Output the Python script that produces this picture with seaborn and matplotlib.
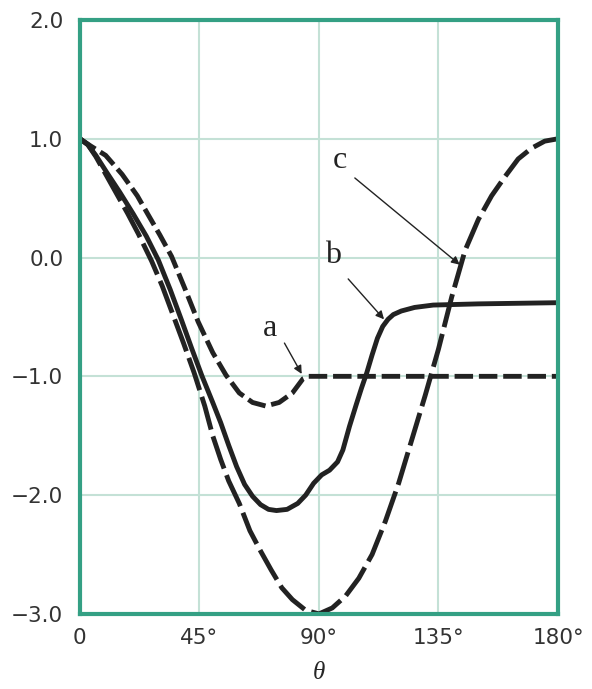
import matplotlib
matplotlib.use("Agg")
import matplotlib.pyplot as plt
import seaborn as sns
import pandas as pd

# ---- data ----
theta_c = [0, 3, 6, 10, 14, 18, 22, 27, 31, 35, 39, 43, 47, 50, 53, 56, 60, 64, 68, 72, 76, 80,
           85, 90, 95, 100, 105, 110, 115, 120, 125, 130, 135, 140, 145, 150, 155, 160, 165, 170,
           175, 180]
val_c = [1.00, 0.95, 0.85, 0.69, 0.53, 0.37, 0.20, -0.03, -0.24, -0.48, -0.72, -0.97, -1.25,
         -1.50, -1.70, -1.88, -2.07, -2.30, -2.47, -2.63, -2.78, -2.88, -2.97, -3.00,
         -2.95, -2.85, -2.70, -2.50, -2.22, -1.90, -1.53, -1.16, -0.77, -0.33, 0.06, 0.32,
         0.52, 0.68, 0.83, 0.92, 0.98, 1.00]

theta_b = [0, 3, 6, 10, 15, 20, 25, 29.5, 34, 38.3, 42, 46, 50, 53, 56, 59, 62, 65, 68, 71, 74,
           78, 82, 85, 88, 91, 94, 97, 99, 101.5, 104, 106, 108, 110, 112, 114, 116, 118, 121,
           126, 133, 150, 180]
val_b = [1.00, 0.95, 0.86, 0.72, 0.55, 0.37, 0.18, -0.02, -0.27, -0.53, -0.76, -1.00, -1.22,
         -1.39, -1.58, -1.76, -1.91, -2.01, -2.08, -2.12, -2.13, -2.12, -2.07, -2.00, -1.90,
         -1.83, -1.79, -1.72, -1.62, -1.42, -1.24, -1.10, -0.97, -0.82, -0.68, -0.58, -0.52,
         -0.48, -0.45, -0.42, -0.40, -0.39, -0.38]

theta_a = [0, 4, 9.7, 15.9, 21.6, 25.7, 30.1, 34.5, 39.5, 44.5, 50, 55, 60, 65, 70, 75, 80, 84,
           86, 180]
val_a = [1.00, 0.94, 0.86, 0.70, 0.52, 0.36, 0.19, 0.01, -0.26, -0.54, -0.80, -0.99, -1.14,
         -1.22, -1.25, -1.22, -1.14, -1.02, -1.00, -1.00]

x_ticks = [0, 45, 90, 135, 180]
x_ticklabels = ["0", "45°", "90°", "135°", "180°"]
y_ticks = [-3.0, -2.0, -1.0, 0.0, 1.0, 2.0]
y_ticklabels = ["\u22123.0", "\u22122.0", "\u22121.0", "0.0", "1.0", "2.0"]

# ---- style ----
sns.set_style("white")
plt.rcParams["font.family"] = ["DejaVu Sans"]

spine_col = "#34a084"
grid_col = "#c4e1d6"
ink = "#222222"

fig = plt.figure(figsize=(5.92, 6.89), dpi=100)
ax = fig.add_axes([0.135, 0.109, 0.8076, 0.862])

df_c = pd.DataFrame({"theta": theta_c, "val": val_c})
df_b = pd.DataFrame({"theta": theta_b, "val": val_b})
df_a = pd.DataFrame({"theta": theta_a, "val": val_a})

lw = 3.5
sns.lineplot(data=df_c, x="theta", y="val", ax=ax, color=ink, lw=lw, sort=False)
ax.lines[-1].set_dashes([7.0, 1.45])
sns.lineplot(data=df_b, x="theta", y="val", ax=ax, color=ink, lw=lw, sort=False)
sns.lineplot(data=df_a, x="theta", y="val", ax=ax, color=ink, lw=lw, sort=False)
ax.lines[-1].set_dashes([3.8, 1.2])
for ln in ax.lines:
    ln.set_solid_capstyle("butt")
    ln.set_dash_capstyle("butt")
    ln.set_solid_joinstyle("round")

ax.set_xlim(0, 180)
ax.set_ylim(-3, 2)
ax.set_xticks(x_ticks)
ax.set_xticklabels(x_ticklabels)
ax.set_yticks(y_ticks)
ax.set_yticklabels(y_ticklabels)
ax.tick_params(axis="both", length=0, labelsize=15.5, colors="#333333")
ax.tick_params(axis="y", pad=12)
ax.tick_params(axis="x", pad=10)

ax.grid(True, color=grid_col, lw=1.5)
ax.set_axisbelow(True)
for s in ax.spines.values():
    s.set_visible(True)
    s.set_color(spine_col)
    s.set_linewidth(3.0)

ax.set_ylabel("")
ax.set_xlabel("θ", fontsize=18, fontstyle="italic", family="Liberation Serif", labelpad=10)

arrow = dict(arrowstyle="-|>", color=ink, lw=1.0, mutation_scale=12, shrinkA=0, shrinkB=0)
tfont = dict(family="Liberation Serif", fontsize=23, color=ink)
ax.annotate("", xy=(83.5, -0.98), xytext=(77, -0.72), arrowprops=arrow)
ax.text(71.5, -0.60, "a", ha="center", va="center", **tfont)
ax.annotate("", xy=(114.5, -0.52), xytext=(101, -0.18), arrowprops=arrow)
ax.text(95.3, 0.02, "b", ha="center", va="center", **tfont)
ax.annotate("", xy=(143, -0.06), xytext=(103.5, 0.67), arrowprops=arrow)
ax.text(98, 0.82, "c", ha="center", va="center", **tfont)

fig.savefig("out.png", dpi=100)
